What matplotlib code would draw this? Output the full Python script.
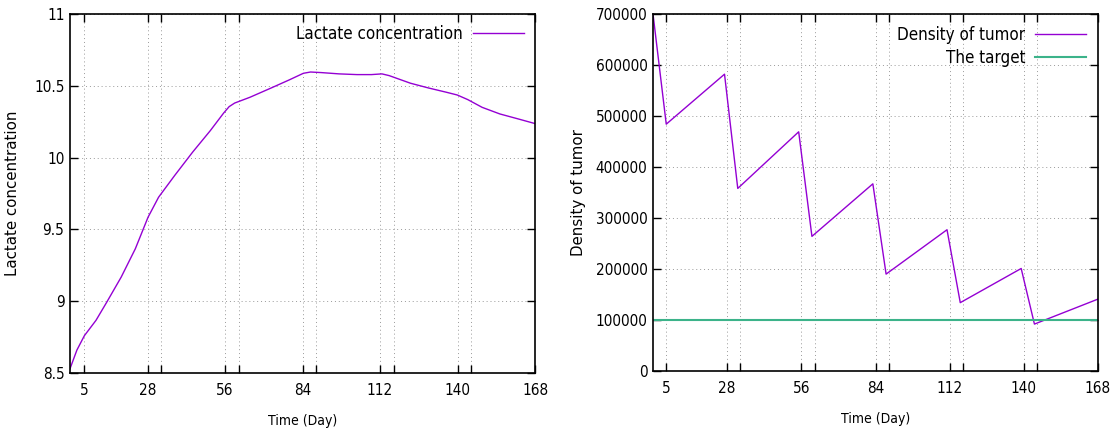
import matplotlib
matplotlib.use("Agg")
import matplotlib.pyplot as plt
from matplotlib import font_manager as fm

# ---------------- data ----------------
lact_days = [0, 2.5, 5.2, 9.4, 13.3, 18.5, 23.6, 28.2, 32, 37.8, 44.3, 50.7, 55.5, 57.5, 59.5,
             65, 72.7, 79.2, 84.3, 86.9, 90.8, 97.2, 103.7, 108.9, 112.7, 115.3,
             123, 129.5, 136, 139.9, 143.7, 148.9, 155.3, 161.8, 168]
lact_vals = [8.53, 8.66, 8.76, 8.867, 8.994, 9.168, 9.365, 9.585, 9.724, 9.875, 10.038,
             10.188, 10.31, 10.355, 10.38, 10.42, 10.485, 10.541, 10.587, 10.596, 10.592,
             10.583, 10.578, 10.578, 10.583, 10.571, 10.518, 10.485, 10.455, 10.436,
             10.404, 10.35, 10.304, 10.27, 10.237]

tumor_days = [0, 5, 27, 32, 55, 60, 83, 88, 111, 116, 139, 144, 168]
tumor_vals = [700000, 484000, 582000, 358000, 469000, 264000, 367000, 190000,
              277000, 134000, 201000, 92000, 141000]

target_days = [0, 168]
target_vals = [100000, 100000]

xticks_major = [5, 28, 56, 84, 112, 140, 168]
xticks_minor = [33, 61, 89, 117, 145]
lact_yticks = [8.5, 9, 9.5, 10, 10.5, 11]
lact_yticklabels = ["8.5", "9", "9.5", "10", "10.5", "11"]
tumor_yticks = [0, 100000, 200000, 300000, 400000, 500000, 600000, 700000]

PURPLE = "#9400d3"
GREEN = "#3cb38a"

# condensed DejaVu (installed) for ticks, legend and x label
tick_font = fm.FontProperties(family="DejaVu Sans", stretch="condensed", size=11)
leg_font = fm.FontProperties(family="DejaVu Sans", stretch="condensed", size=12.2)
xlab_font = fm.FontProperties(family="DejaVu Sans", stretch="condensed", size=10)

fig = plt.figure(figsize=(11.13, 4.38), dpi=100)
ax1 = fig.add_axes([70 / 1113, 65 / 438, 465 / 1113, 359 / 438])
ax2 = fig.add_axes([653 / 1113, 67 / 438, 445 / 1113, 357 / 438])


def style(ax, yticks, ylabels):
    ax.set_xlim(0, 168)
    ax.set_xticks(xticks_major)
    ax.set_xticks(xticks_minor, minor=True)
    ax.set_yticks(yticks)
    ax.set_yticklabels(ylabels)
    for lab in ax.get_xticklabels() + ax.get_yticklabels():
        lab.set_fontproperties(tick_font)
    ax.tick_params(which="both", direction="in", length=6, width=1,
                   top=True, right=True, pad=7, colors="black")
    ax.tick_params(axis="y", pad=4)
    ax.grid(True, which="both", linestyle=(0, (1, 3)), color="#999999", linewidth=0.7)
    for s in ax.spines.values():
        s.set_linewidth(1.2)
    ax.set_xlabel("Time (Day)", fontproperties=xlab_font, labelpad=12)


ax1.plot(lact_days, lact_vals, color=PURPLE, lw=1.0, label="Lactate concentration")
ax1.set_ylim(8.5, 11)
style(ax1, lact_yticks, lact_yticklabels)
ax1.set_ylabel("Lactate concentration", fontsize=10.8, labelpad=10)
ax1.legend(loc="upper right", frameon=False, markerfirst=False, prop=leg_font,
           handlelength=3.0, borderaxespad=0.25, handletextpad=0.6)

ax2.plot(tumor_days, tumor_vals, color=PURPLE, lw=1.0, label="Density of tumor")
ax2.plot(target_days, target_vals, color=GREEN, lw=1.5, label="The target")
ax2.set_ylim(0, 700000)
style(ax2, tumor_yticks, [str(v) for v in tumor_yticks])
ax2.set_ylabel("Density of tumor", fontsize=10.8, labelpad=7)
ax2.legend(loc="upper right", frameon=False, markerfirst=False, prop=leg_font,
           handlelength=3.0, borderaxespad=0.3, handletextpad=0.6, labelspacing=0.3)

fig.savefig("out.png", dpi=100)
